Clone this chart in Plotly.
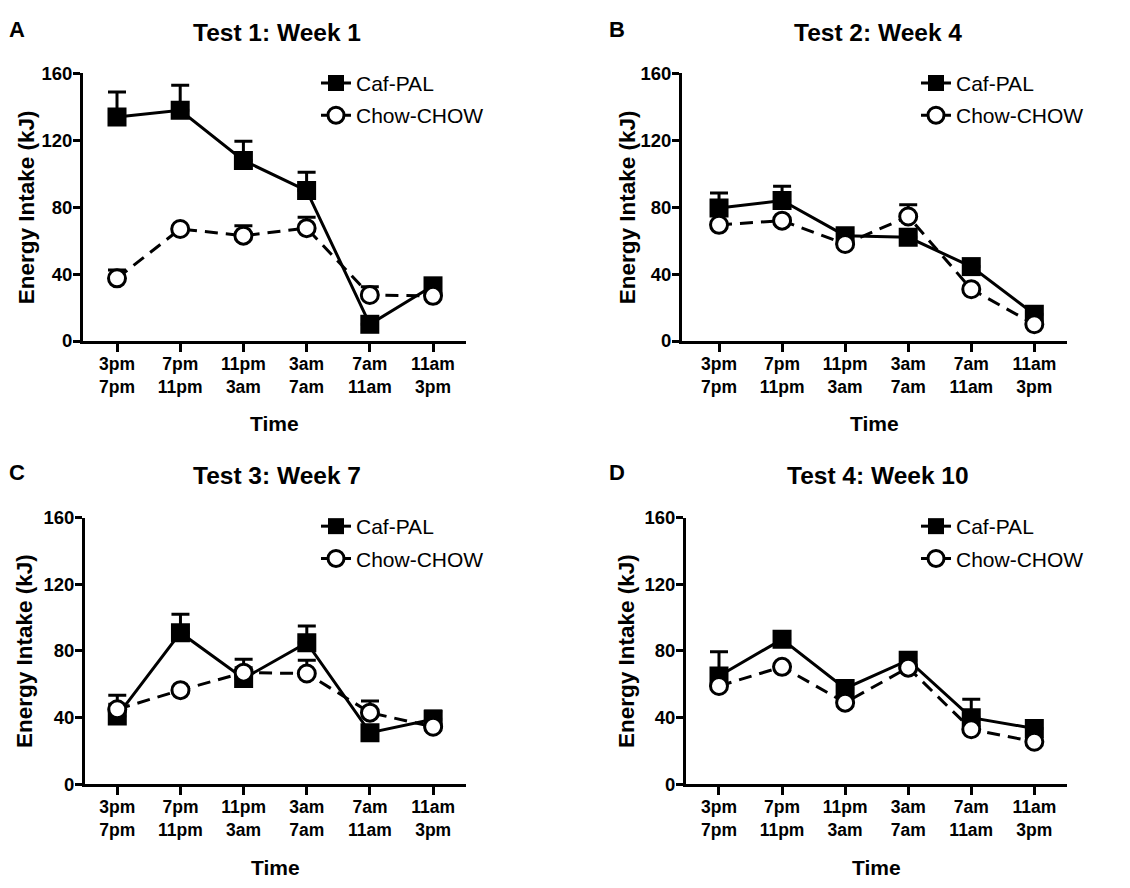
import plotly.graph_objects as go

# ---------------- data ----------------
categories = ["3pm<br>7pm", "7pm<br>11pm", "11pm<br>3am", "3am<br>7am", "7am<br>11am", "11am<br>3pm"]
series_names = ["Caf-PAL", "Chow-CHOW"]
panel_titles = ["Test 1: Week 1", "Test 2: Week 4", "Test 3: Week 7", "Test 4: Week 10"]
panel_letters = ["A", "B", "C", "D"]
y_ticks = [0, 40, 80, 120, 160]

caf_A = [134, 138, 108, 90, 10, 33]
caf_A_sem = [15, 15, 11.5, 11, 0, 2]
chow_A = [37.5, 67, 63, 67.5, 27.5, 27]
chow_A_sem = [5, 0, 6, 6.5, 5, 0]

caf_B = [79.5, 84, 63, 62, 44.5, 16]
caf_B_sem = [9, 8.5, 2, 0, 0, 0]
chow_B = [69.5, 72, 58, 74.5, 31, 10]
chow_B_sem = [0, 0, 0, 7, 0, 0]

caf_C = [41, 91, 63.5, 85, 31, 39]
caf_C_sem = [12.5, 11, 11.5, 10, 0, 5]
chow_C = [45, 56.5, 67, 66.5, 43, 34.5]
chow_C_sem = [3, 0, 3, 8, 7, 0]

caf_D = [65, 87, 57.5, 74.5, 40, 33.5]
caf_D_sem = [14.5, 0, 0, 0, 11, 0]
chow_D = [59, 70.5, 49, 70, 33, 25.5]
chow_D_sem = [0, 0, 0, 0, 0, 0]

caf_all = [(caf_A, caf_A_sem), (caf_B, caf_B_sem), (caf_C, caf_C_sem), (caf_D, caf_D_sem)]
chow_all = [(chow_A, chow_A_sem), (chow_B, chow_B_sem), (chow_C, chow_C_sem), (chow_D, chow_D_sem)]

# ---------------- layout geometry (pixels) ----------------
W, H = 1130, 888
FONT = "Liberation Sans, Arial, sans-serif"
panels = [
    dict(x0=83, x1=466, yt=64, yb=338, r=[-0.538, 5.522], title_x=277, title_y=22, letter_x=17, ytitle_x=26, time_y=423, leg_x=316, leg_y=53),
    dict(x0=682, x1=1067, yt=64, yb=338, r=[-0.587, 5.518], title_x=878, title_y=22, letter_x=617, ytitle_x=627, time_y=423, leg_x=916, leg_y=53),
    dict(x0=85, x1=466, yt=519, yb=792, r=[-0.511, 5.52], title_x=277, title_y=476, letter_x=17, ytitle_x=25, time_y=877, leg_x=316, leg_y=507),
    dict(x0=686, x1=1067, yt=519, yb=792, r=[-0.523, 5.518], title_x=878, title_y=476, letter_x=617, ytitle_x=627, time_y=877, leg_x=916, leg_y=507),
]

def px(x):
    return x / W

def py(y):
    return 1 - y / H

fig = go.Figure()
annotations = []
layout_extra = {}

for i, p in enumerate(panels):
    n = "" if i == 0 else str(i + 1)
    xa, ya = "x" + n, "y" + n
    leg = "legend" + n
    caf, caf_sem = caf_all[i]
    chow, chow_sem = chow_all[i]

    fig.add_trace(go.Scatter(
        x=categories, y=caf, name=series_names[0], mode="lines+markers",
        xaxis=xa, yaxis=ya, legend=leg, legendgroup="caf" + n,
        line=dict(color="black", width=3),
        marker=dict(symbol="square", size=19, color="black", line=dict(width=0)),
        error_y=dict(type="data", array=caf_sem, arrayminus=[0] * len(caf_sem), symmetric=False,
                     color="black", thickness=3, width=9),
    ))
    fig.add_trace(go.Scatter(
        x=categories, y=chow, name=series_names[1], mode="lines+markers",
        xaxis=xa, yaxis=ya, legend=leg, legendgroup="chow" + n,
        line=dict(color="black", width=3, dash="13px,8px"),
        marker=dict(symbol="circle", size=17, color="white", line=dict(width=3, color="black")),
        error_y=dict(type="data", array=chow_sem, arrayminus=[0] * len(chow_sem), symmetric=False,
                     color="black", thickness=3, width=9),
    ))

    layout_extra["xaxis" + n] = dict(
        domain=[px(p["x0"]), px(p["x1"])], anchor=ya, type="category",
        range=p["r"], showline=True, linewidth=3, linecolor="black",
        ticks="outside", ticklen=8, tickwidth=3, tickcolor="black",
        ticklabelstandoff=-3,
        showgrid=False, zeroline=False, fixedrange=True,
        tickfont=dict(family=FONT, size=17.5, color="black", weight="bold"),
    )
    layout_extra["yaxis" + n] = dict(
        domain=[py(p["yb"]), py(p["yt"])], anchor=xa,
        range=[0, 160], tickvals=y_ticks, showline=True, linewidth=3, linecolor="black",
        ticks="outside", ticklen=7, tickwidth=3, tickcolor="black",
        ticklabelstandoff=-3,
        showgrid=False, zeroline=False, fixedrange=True,
        tickfont=dict(family=FONT, size=18.5, color="black", weight="bold"),
    )
    layout_extra[leg] = dict(
        x=px(p["leg_x"]), y=py(p["leg_y"]), xanchor="left", yanchor="top",
        bgcolor="rgba(0,0,0,0)", borderwidth=0, tracegroupgap=2,
        font=dict(family=FONT, size=21, color="black"),
        itemwidth=30,
    )

    annotations += [
        dict(text=panel_titles[i], x=px(p["title_x"]), y=py(p["title_y"]), xref="paper", yref="paper",
             showarrow=False, xanchor="center", yanchor="middle",
             font=dict(family=FONT, size=24.5, color="black", weight="bold")),
        dict(text=panel_letters[i], x=px(p["letter_x"]), y=py(p["title_y"] - 3), xref="paper", yref="paper",
             showarrow=False, xanchor="center", yanchor="middle",
             font=dict(family=FONT, size=22, color="black", weight="bold")),
        dict(text="Energy Intake (kJ)", x=px(p["ytitle_x"]), y=py((p["yt"] + p["yb"]) / 2),
             xref="paper", yref="paper", textangle=-90,
             showarrow=False, xanchor="center", yanchor="middle",
             font=dict(family=FONT, size=22.5, color="black", weight="bold")),
        dict(text="Time", x=px((p["x0"] + p["x1"]) / 2), y=py(p["time_y"]),
             xref="paper", yref="paper",
             showarrow=False, xanchor="center", yanchor="middle",
             font=dict(family=FONT, size=21, color="black", weight="bold")),
    ]

fig.update_layout(
    width=W, height=H, margin=dict(l=0, r=0, t=0, b=0),
    paper_bgcolor="white", plot_bgcolor="white",
    showlegend=True, annotations=annotations,
    **layout_extra,
)

fig.write_html("out.html", config={"displayModeBar": False})
